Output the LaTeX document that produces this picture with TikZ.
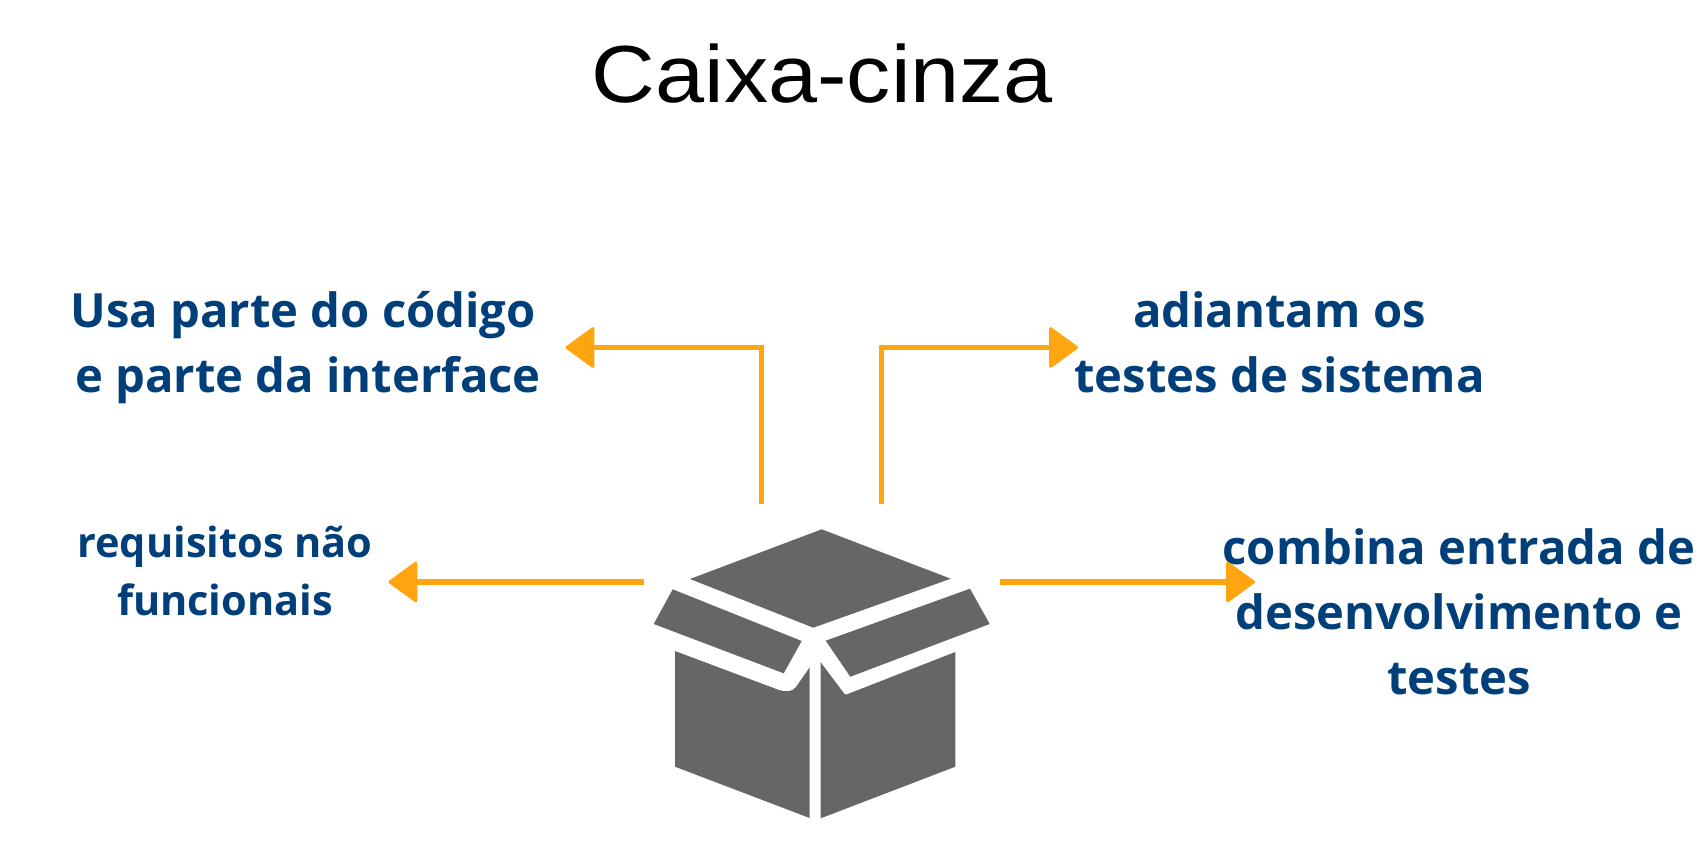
\documentclass[tikz,border=0pt]{standalone}
\usepackage{fontspec}
\setmainfont{Open Sans}
\newfontfamily\titlefont[FakeStretch=1.09]{Liberation Sans}
\usetikzlibrary{arrows.meta}
\definecolor{flecha}{HTML}{FFA50F}
\definecolor{caixa}{HTML}{666666}
\definecolor{azul}{HTML}{003F7A}
\tikzset{
  seta/.style={draw=flecha,line width=5.5pt,line join=miter,
    -{Triangle[length=30pt,width=43pt,line width=3pt,round,fill=flecha]}},
  tampa/.style={fill=caixa,draw=none},
  bigtext/.style={inner sep=0pt,outer sep=0pt,anchor=base,align=center,text=azul,
    font=\fontsize{47.2}{65}\selectfont\bfseries},
  smalltext/.style={inner sep=0pt,outer sep=0pt,anchor=base,align=center,text=azul,
    font=\fontsize{41.5}{58}\selectfont\bfseries},
  titletext/.style={inner sep=0pt,outer sep=0pt,anchor=base,text=black,
    font=\titlefont\fontsize{81}{90}\selectfont},
}
\begin{document}
\begin{tikzpicture}[x=1pt,y=-1pt]
\useasboundingbox[fill=white] (0,0) rectangle (1700,854);
\node[titletext] (titulo) at (822.5,102.7) {Caixa-cinza};
\node[bigtext] (codigo) at (308,392.5) {Usa parte do código\hspace*{10pt}\\e parte da interface};
\node[bigtext] (adiantam) at (1279.5,392.5) {adiantam os\\testes de sistema};
\node[smalltext] (requisitos) at (225,615.5) {requisitos não\\funcionais};
\node[bigtext] (combina) at (1459,694) {combina entrada de\\desenvolvimento e\\testes};
% caixa
\fill[tampa] (821.7,529.3) -- (950.7,578.7) -- (813.3,627.7) -- (690,579) -- cycle;
\fill[tampa] (672.7,589.3) -- (801.7,641) -- (783.7,673.3) -- (653.7,624) -- cycle;
\fill[tampa] (970,588.7) -- (989.7,624) -- (850.3,676.7) -- (825.7,640.7) -- cycle;
\fill[tampa] (675,651) -- (779,690) .. controls (785,692) and (793,692) .. (796,687) -- (809.7,667.3) -- (809.7,818) -- (675,766.7) -- cycle;
\fill[tampa] (820.7,662.3) -- (843,692) .. controls (845,695) and (846,695) .. (849,693.5) -- (955.3,652) -- (955.3,766.7) -- (820.7,818.3) -- cycle;
% setas
\coordinate (o1) at (761.7,504);
\coordinate (p1) at (565.5,347.5);
\coordinate (o2) at (881.5,504);
\coordinate (p2) at (1078,347.5);
\coordinate (o3) at (644,582);
\coordinate (p3) at (388.5,582);
\coordinate (o4) at (999.5,582);
\coordinate (p4) at (1255,582);
\draw[seta] (o1) |- (p1);
\draw[seta] (o2) |- (p2);
\draw[seta] (o3) -- (p3);
\draw[seta] (o4) -- (p4);
\end{tikzpicture}
\end{document}
